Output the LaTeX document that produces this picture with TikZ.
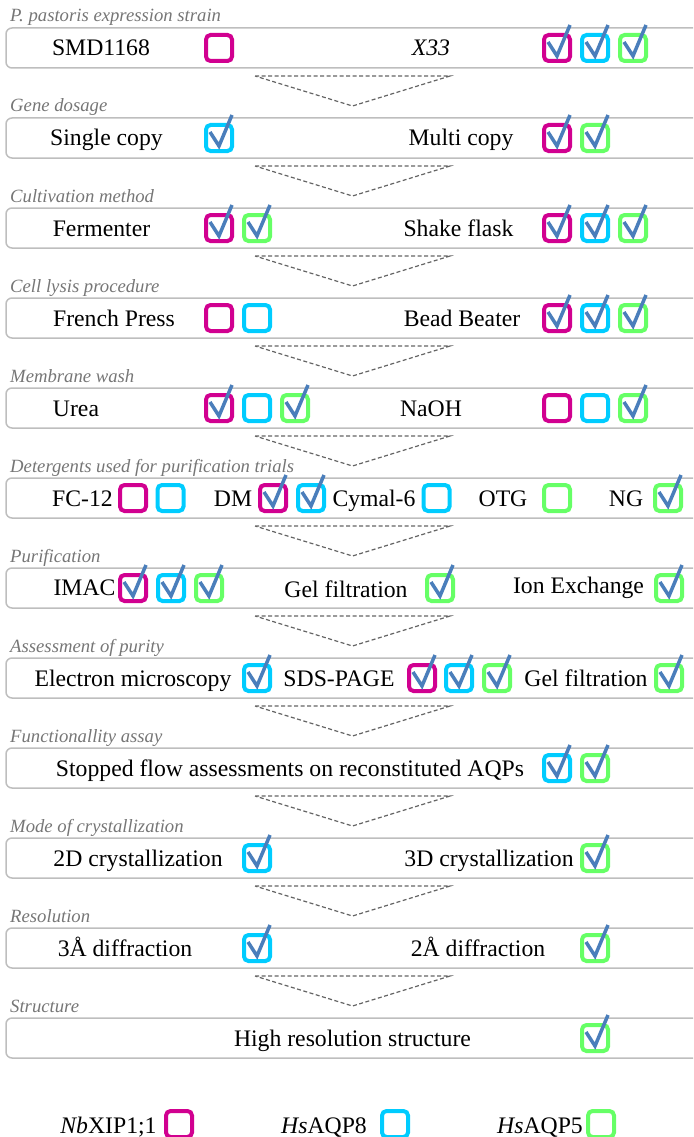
\documentclass[tikz,border=0pt]{standalone}
\usepackage{fontspec}
\setmainfont{Liberation Serif}

\definecolor{nbmag}{RGB}{209,0,144}
\definecolor{aqpcyan}{RGB}{0,204,255}
\definecolor{aqpgreen}{RGB}{102,255,102}
\definecolor{tickblue}{RGB}{74,126,187}
\definecolor{boxgray}{RGB}{190,190,190}
\definecolor{labelgray}{RGB}{118,118,118}
\definecolor{chevgray}{RGB}{100,100,100}

\tikzset{
  rowbox/.style={draw=boxgray, line width=1.5pt, rounded corners=6pt},
  steplabel/.style={anchor=base west, inner sep=0pt, text=labelgray,
    font=\fontsize{18.7}{20}\selectfont\itshape},
  item/.style={anchor=base, inner sep=0pt, font=\fontsize{23.7}{26}\selectfont},
  cbox/.style={draw=#1, line width=4pt, rounded corners=4.5pt,
    minimum size=26pt, inner sep=0pt},
  tick/.style={draw=tickblue, line width=3.5pt},
  chevron/.style={draw=chevgray, line width=1.2pt, dash pattern=on 4pt off 2.5pt}
}
% tick mark over a box node
\newcommand{\tickon}[1]{\draw[tick] ([shift={(-9,-6)}]#1.center) -- ([shift={(0,8)}]#1.center) -- ([shift={(13,-23)}]#1.center);}

\begin{document}
\begin{tikzpicture}[x=1pt,y=-1pt]
	\useasboundingbox (0,0) rectangle (693,1137);
	\clip (0,0) rectangle (693,1137);

	% Row boxes
	\draw[rowbox] (6,28) rectangle (710,68);
	\draw[rowbox] (6,118) rectangle (710,158);
	\draw[rowbox] (6,208) rectangle (710,248);
	\draw[rowbox] (6,298) rectangle (710,338);
	\draw[rowbox] (6,388) rectangle (710,428);
	\draw[rowbox] (6,478) rectangle (710,518);
	\draw[rowbox] (6,568) rectangle (710,608);
	\draw[rowbox] (6,658) rectangle (710,698);
	\draw[rowbox] (6,748) rectangle (710,788);
	\draw[rowbox] (6,838) rectangle (710,878);
	\draw[rowbox] (6,928) rectangle (710,968);
	\draw[rowbox] (6,1018) rectangle (710,1058);

	% Chevrons between rows
	\draw[chevron] (255,76) -- (450,76) -- (352.5,106) -- cycle;
	\draw[chevron] (255,166) -- (450,166) -- (352.5,196) -- cycle;
	\draw[chevron] (255,256) -- (450,256) -- (352.5,286) -- cycle;
	\draw[chevron] (255,346) -- (450,346) -- (352.5,376) -- cycle;
	\draw[chevron] (255,436) -- (450,436) -- (352.5,466) -- cycle;
	\draw[chevron] (255,526) -- (450,526) -- (352.5,556) -- cycle;
	\draw[chevron] (255,616) -- (450,616) -- (352.5,646) -- cycle;
	\draw[chevron] (255,706) -- (450,706) -- (352.5,736) -- cycle;
	\draw[chevron] (255,796) -- (450,796) -- (352.5,826) -- cycle;
	\draw[chevron] (255,886) -- (450,886) -- (352.5,916) -- cycle;
	\draw[chevron] (255,976) -- (450,976) -- (352.5,1006) -- cycle;

	% Expression strain
	\node[steplabel] (strain) at (10,22) {P. pastoris expression strain};
	\node[item] (smd) at (101,56) {SMD1168};
	\node[cbox=nbmag] (smd-nb) at (219,48) {};
	\node[item] (x33) at (431,56) {\itshape X33};
	\node[cbox=nbmag] (x33-nb) at (557,48) {};
	\node[cbox=aqpcyan] (x33-a8) at (595,48) {};
	\node[cbox=aqpgreen] (x33-a5) at (633,48) {};
	\tickon{x33-nb} \tickon{x33-a8} \tickon{x33-a5}

	% Gene dosage
	\node[steplabel] (dosage) at (10,112) {Gene dosage};
	\node[item] (single) at (106.5,146) {Single copy};
	\node[cbox=aqpcyan] (single-a8) at (219,138) {};
	\node[item] (multi) at (461,146) {Multi copy};
	\node[cbox=nbmag] (multi-nb) at (557,138) {};
	\node[cbox=aqpgreen] (multi-a5) at (595,138) {};
	\tickon{single-a8} \tickon{multi-nb} \tickon{multi-a5}

	% Cultivation method
	\node[steplabel] (cultiv) at (10,202) {Cultivation method};
	\node[item] (ferm) at (101.5,236) {Fermenter};
	\node[cbox=nbmag] (ferm-nb) at (219,228) {};
	\node[cbox=aqpgreen] (ferm-a5) at (257,228) {};
	\node[item] (shake) at (458.5,236) {Shake flask};
	\node[cbox=nbmag] (shake-nb) at (557,228) {};
	\node[cbox=aqpcyan] (shake-a8) at (595,228) {};
	\node[cbox=aqpgreen] (shake-a5) at (633,228) {};
	\tickon{ferm-nb} \tickon{ferm-a5}
	\tickon{shake-nb} \tickon{shake-a8} \tickon{shake-a5}

	% Cell lysis procedure
	\node[steplabel] (lysis) at (10,292) {Cell lysis procedure};
	\node[item] (french) at (114,326) {French Press};
	\node[cbox=nbmag] (french-nb) at (219,318) {};
	\node[cbox=aqpcyan] (french-a8) at (257,318) {};
	\node[item] (bead) at (462,326) {Bead Beater};
	\node[cbox=nbmag] (bead-nb) at (557,318) {};
	\node[cbox=aqpcyan] (bead-a8) at (595,318) {};
	\node[cbox=aqpgreen] (bead-a5) at (633,318) {};
	\tickon{bead-nb} \tickon{bead-a8} \tickon{bead-a5}

	% Membrane wash
	\node[steplabel] (wash) at (10,382) {Membrane wash};
	\node[item] (urea) at (76,416) {Urea};
	\node[cbox=nbmag] (urea-nb) at (219,408) {};
	\node[cbox=aqpcyan] (urea-a8) at (257,408) {};
	\node[cbox=aqpgreen] (urea-a5) at (295,408) {};
	\node[item] (naoh) at (431,416) {NaOH};
	\node[cbox=nbmag] (naoh-nb) at (557,408) {};
	\node[cbox=aqpcyan] (naoh-a8) at (595,408) {};
	\node[cbox=aqpgreen] (naoh-a5) at (633,408) {};
	\tickon{urea-nb} \tickon{urea-a5} \tickon{naoh-a5}

	% Detergents
	\node[steplabel] (deterg) at (10,472) {Detergents used for purification trials};
	\node[item] (fc) at (82.5,506) {FC-12};
	\node[cbox=nbmag] (fc-nb) at (133,498) {};
	\node[cbox=aqpcyan] (fc-a8) at (170.5,498) {};
	\node[item] (dm) at (233,506) {DM};
	\node[cbox=nbmag] (dm-nb) at (273,498) {};
	\node[cbox=aqpcyan] (dm-a8) at (311,498) {};
	\node[item] (cymal) at (374,506) {Cymal-6};
	\node[cbox=aqpcyan] (cymal-a8) at (436.5,498) {};
	\node[item] (otg) at (503,506) {OTG};
	\node[cbox=aqpgreen] (otg-a5) at (557,498) {};
	\node[item] (ng) at (626,506) {NG};
	\node[cbox=aqpgreen] (ng-a5) at (668,498) {};
	\tickon{dm-nb} \tickon{dm-a8} \tickon{ng-a5}

	% Purification
	\node[steplabel] (purif) at (10,562) {Purification};
	\node[item] (imac) at (84.5,595) {IMAC};
	\node[cbox=nbmag] (imac-nb) at (133,588) {};
	\node[cbox=aqpcyan] (imac-a8) at (171,588) {};
	\node[cbox=aqpgreen] (imac-a5) at (209,588) {};
	\node[item] (gelf) at (346,597) {Gel filtration};
	\node[cbox=aqpgreen] (gelf-a5) at (440,588) {};
	\node[item] (ionex) at (578.5,593) {Ion Exchange};
	\node[cbox=aqpgreen] (ionex-a5) at (669,588) {};
	\tickon{imac-nb} \tickon{imac-a8} \tickon{imac-a5}
	\tickon{gelf-a5} \tickon{ionex-a5}

	% Assessment of purity
	\node[steplabel] (purity) at (10,652) {Assessment of purity};
	\node[item] (em) at (133,686) {Electron microscopy};
	\node[cbox=aqpcyan] (em-a8) at (257,678) {};
	\node[item] (sds) at (339,686) {SDS-PAGE};
	\node[cbox=nbmag] (sds-nb) at (422,678) {};
	\node[cbox=aqpcyan] (sds-a8) at (459,678) {};
	\node[cbox=aqpgreen] (sds-a5) at (497,678) {};
	\node[item] (gelf2) at (586,686) {Gel filtration};
	\node[cbox=aqpgreen] (gelf2-a5) at (669,678) {};
	\tickon{em-a8} \tickon{sds-nb} \tickon{sds-a8} \tickon{sds-a5} \tickon{gelf2-a5}

	% Functionality assay
	\node[steplabel] (assay) at (10,742) {Functionallity assay};
	\node[item] (stopped) at (290,776) {Stopped flow assessments on reconstituted AQPs};
	\node[cbox=aqpcyan] (stopped-a8) at (557,768) {};
	\node[cbox=aqpgreen] (stopped-a5) at (595,768) {};
	\tickon{stopped-a8} \tickon{stopped-a5}

	% Mode of crystallization
	\node[steplabel] (cryst) at (10,832) {Mode of crystallization};
	\node[item] (twod) at (138,866) {2D crystallization};
	\node[cbox=aqpcyan] (twod-a8) at (257,858) {};
	\node[item] (threed) at (489,866) {3D crystallization};
	\node[cbox=aqpgreen] (threed-a5) at (595,858) {};
	\tickon{twod-a8} \tickon{threed-a5}

	% Resolution
	\node[steplabel] (resol) at (10,922) {Resolution};
	\node[item] (diff3) at (125,956) {3Å diffraction};
	\node[cbox=aqpcyan] (diff3-a8) at (257,948) {};
	\node[item] (diff2) at (478,956) {2Å diffraction};
	\node[cbox=aqpgreen] (diff2-a5) at (595,948) {};
	\tickon{diff3-a8} \tickon{diff2-a5}

	% Structure
	\node[steplabel] (struct) at (10,1012) {Structure};
	\node[item] (highres) at (352.5,1046) {High resolution structure};
	\node[cbox=aqpgreen] (highres-a5) at (595,1038) {};
	\tickon{highres-a5}

	% Legend
	\node[item] (leg-nb) at (108.5,1133) {\itshape Nb\upshape XIP1;1};
	\node[cbox=nbmag] (key-nb) at (179,1124) {};
	\node[item] (leg-a8) at (324,1133) {\itshape Hs\upshape AQP8};
	\node[cbox=aqpcyan] (key-a8) at (395,1124) {};
	\node[item] (leg-a5) at (540,1133) {\itshape Hs\upshape AQP5};
	\node[cbox=aqpgreen] (key-a5) at (601,1124) {};
\end{tikzpicture}
\end{document}
